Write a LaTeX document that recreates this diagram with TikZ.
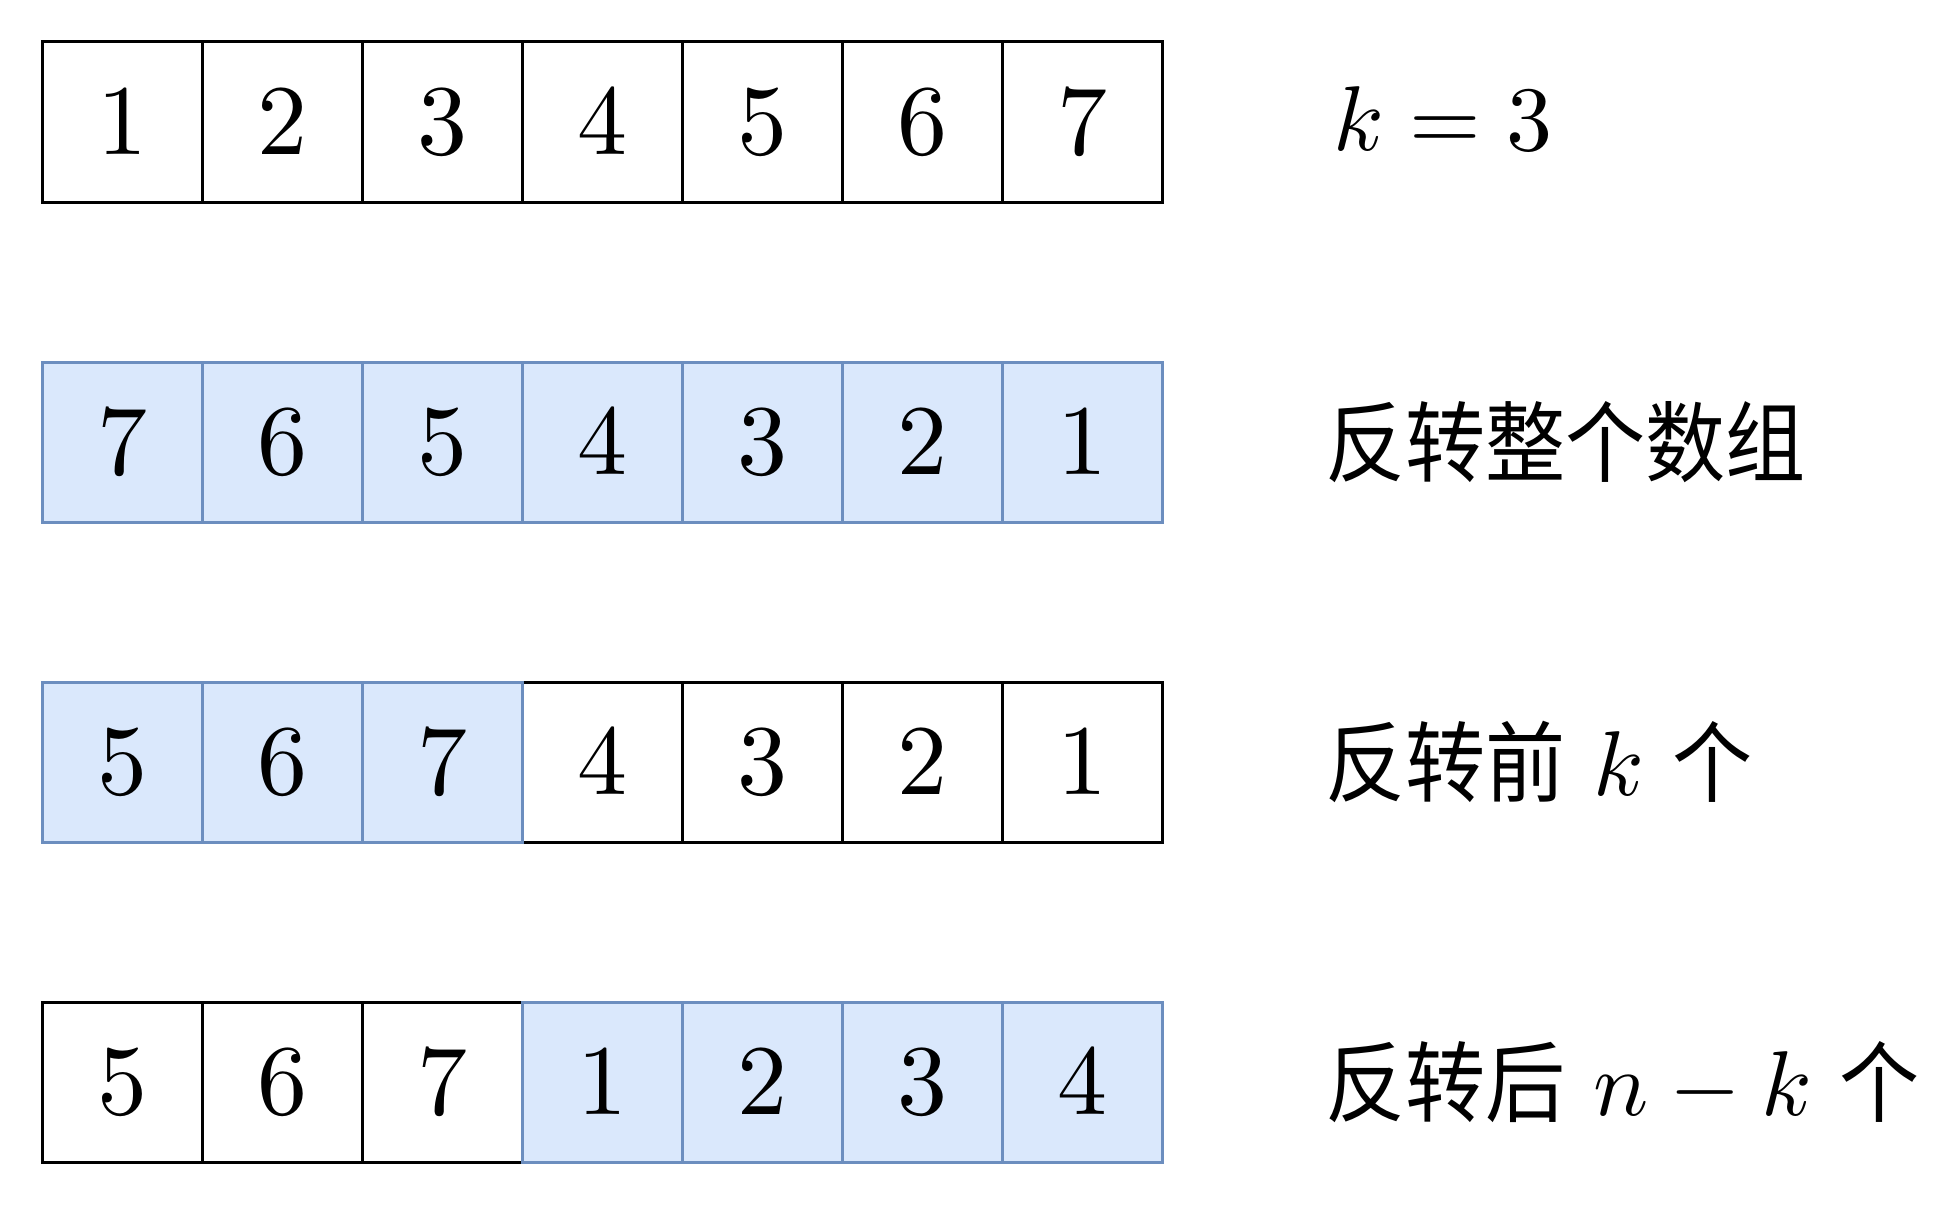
\documentclass[tikz,border=0pt]{standalone}
\usepackage{fontspec}
\usepackage{graphicx}
\DeclareFontShape{OT1}{cmr}{m}{n}{<->cmr10}{}
\DeclareFontShape{OML}{cmm}{m}{it}{<->cmmi10}{}
\DeclareFontShape{OMS}{cmsy}{m}{n}{<->cmsy10}{}
\newfontfamily\cjk{Noto Sans CJK SC}
\definecolor{bfill}{HTML}{DAE8FC}
\definecolor{bdraw}{HTML}{6C8EBF}
\newcommand{\zh}[1]{\scalebox{0.91}[1]{\fontsize{44}{52}\cjk #1}}
\begin{document}
\begin{tikzpicture}[x=0.5pt,y=-0.5pt,
  cell/.style={draw=black, line width=1.5pt, minimum size=80pt, inner sep=0pt, outer sep=0pt, font=\fontsize{50}{60}\selectfont},
  bcell/.style={cell, fill=bfill, draw=bdraw},
  lab/.style={anchor=base west, inner sep=0pt, font=\fontsize{46}{55}\selectfont}]
\useasboundingbox (0,0) rectangle (1957,1204);
% row 1
\foreach \v [count=\i] in {1,2,3,4,5,6,7}
  \node[cell] (a\i) at ({122+160*(\i-1)},122) {$\v$};
% row 2
\foreach \v [count=\i] in {7,6,5,4,3,2,1}
  \node[bcell] (b\i) at ({122+160*(\i-1)},442) {$\v$};
% row 3
\foreach \v [count=\i from 4] in {4,3,2,1}
  \node[cell] (c\i) at ({122+160*(\i-1)},762) {$\v$};
\foreach \v [count=\i] in {5,6,7}
  \node[bcell] (c\i) at ({122+160*(\i-1)},762) {$\v$};
% row 4
\foreach \v [count=\i] in {5,6,7}
  \node[cell] (d\i) at ({122+160*(\i-1)},1082) {$\v$};
\foreach \v [count=\i from 4] in {1,2,3,4}
  \node[bcell] (d\i) at ({122+160*(\i-1)},1082) {$\v$};
% labels
\node[lab] (la) at (1333,150) {$k=3$};
\node[lab] (lb) at (1325,475) {\zh{反转整个数组}};
\node[lab] (lc) at (1325,795) {\zh{反转前} $k$ \zh{个}};
\node[lab] (ld) at (1325,1115) {\zh{反转后} $n-k$ \zh{个}};
\end{tikzpicture}
\end{document}
